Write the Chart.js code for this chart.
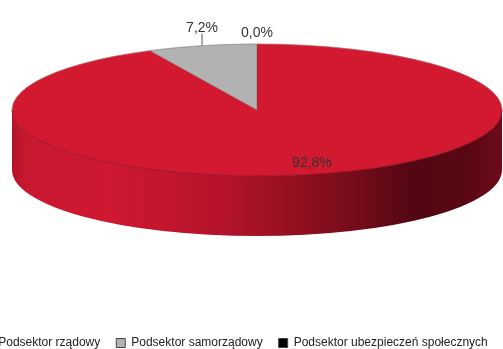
<!DOCTYPE html>
<html><head><meta charset="utf-8">
<style>html,body{margin:0;padding:0;background:#fff;overflow:hidden;width:503px;height:349px}
canvas{position:absolute;left:-40px;top:0}</style>
<script src="https://cdn.jsdelivr.net/npm/chart.js@4"></script></head>
<body><canvas id="c" width="551" height="359"></canvas>
<script>
const categories = ['Podsektor rządowy', 'Podsektor samorządowy', 'Podsektor ubezpieczeń społecznych'];
const shares = [92.8, 7.2, 0.0];
const sliceColors = ['#d2192f', '#b2b2b2', '#000000'];

const look = {cx: 297, cy: 110, rx: 245, ry: 66, depth: 60, labelRise: [12, 19, 12]};

function toEllipse(ctx, arc) {
  ctx.translate(look.cx, look.cy);
  ctx.scale(look.rx / arc.outerRadius, look.ry / arc.outerRadius);
  ctx.translate(-arc.x, -arc.y);
}
const pie3d = {
  id: 'pie3d',
  beforeDatasetsDraw(chart) {
    const ctx = chart.ctx, arcs = chart.getDatasetMeta(0).data;
    // side wall: only the front half of the rim is visible
    const g = ctx.createLinearGradient(look.cx - look.rx, 0, look.cx + look.rx, 0);
    g.addColorStop(0, '#b3142b'); g.addColorStop(0.03, '#c8182f'); g.addColorStop(0.2, '#cf1831');
    g.addColorStop(0.42, '#b5142c'); g.addColorStop(0.58, '#93101f'); g.addColorStop(0.72, '#700b19');
    g.addColorStop(0.82, '#520712'); g.addColorStop(0.93, '#590813'); g.addColorStop(1, '#6e0a18');
    arcs.forEach(arc => {
      const a0 = Math.max(arc.startAngle, 0), a1 = Math.min(arc.endAngle, Math.PI);
      const b0 = Math.max(arc.startAngle - 2 * Math.PI, 0), b1 = Math.min(arc.endAngle - 2 * Math.PI, Math.PI);
      [[a0, a1], [b0, b1]].forEach(([s, e]) => {
        if (e <= s) return;
        ctx.beginPath();
        ctx.ellipse(look.cx, look.cy, look.rx, look.ry, 0, s, e);
        ctx.ellipse(look.cx, look.cy + look.depth, look.rx, look.ry, 0, e, s, true);
        ctx.closePath();
        ctx.fillStyle = g; ctx.fill();
      });
    });
    ctx.save();
    toEllipse(ctx, arcs[0]);
  },
  afterDatasetsDraw(chart) {
    const ctx = chart.ctx, arcs = chart.getDatasetMeta(0).data;
    ctx.restore();
    // rim line between top face and wall
    ctx.beginPath();
    ctx.ellipse(look.cx, look.cy, look.rx, look.ry, 0, 0, Math.PI);
    ctx.strokeStyle = '#8a0f20'; ctx.lineWidth = 0.8; ctx.stroke();
    ctx.beginPath();
    ctx.ellipse(look.cx, look.cy, look.rx, look.ry, 0, Math.PI, 2 * Math.PI);
    ctx.strokeStyle = 'rgba(150,150,150,0.6)'; ctx.lineWidth = 0.7; ctx.stroke();
    // percentage labels anchored on the rim at each slice's mid angle
    ctx.font = '14px "Liberation Sans"';
    ctx.textAlign = 'center'; ctx.textBaseline = 'middle';
    arcs.forEach((arc, i) => {
      const mid = (arc.startAngle + arc.endAngle) / 2;
      const x = look.cx + look.rx * Math.cos(mid), y = look.cy + look.ry * Math.sin(mid);
      const rise = look.labelRise[i];
      if (rise > 12) {
        ctx.beginPath(); ctx.moveTo(x, y); ctx.lineTo(x, y - rise + 7);
        ctx.strokeStyle = '#555'; ctx.lineWidth = 1; ctx.stroke();
      }
      ctx.fillStyle = '#333';
      ctx.fillText(shares[i].toFixed(1).replace('.', ',') + '%', x, y - rise + 1);
    });
  }
};

new Chart(document.getElementById('c'), {
  type: 'pie',
  data: {labels: categories, datasets: [{
    data: shares, backgroundColor: sliceColors,
    borderColor: ['#d2192f', '#555555', '#000000'], borderWidth: 0.4
  }]},
  plugins: [pie3d],
  options: {
    responsive: false, animation: false, events: [],
    layout: {padding: {top: 10, bottom: 0}},
    plugins: {
      tooltip: {enabled: false},
      legend: {position: 'bottom', labels: {
        boxWidth: 9, boxHeight: 9, padding: 16, color: '#222',
        font: {family: '"Liberation Sans"', size: 12},
        generateLabels(chart) {
          return Chart.overrides.pie.plugins.legend.labels.generateLabels(chart)
            .map(item => ({...item, lineWidth: 1, strokeStyle: '#444'}));
        }
      }}
    }
  }
});
</script></body></html>
